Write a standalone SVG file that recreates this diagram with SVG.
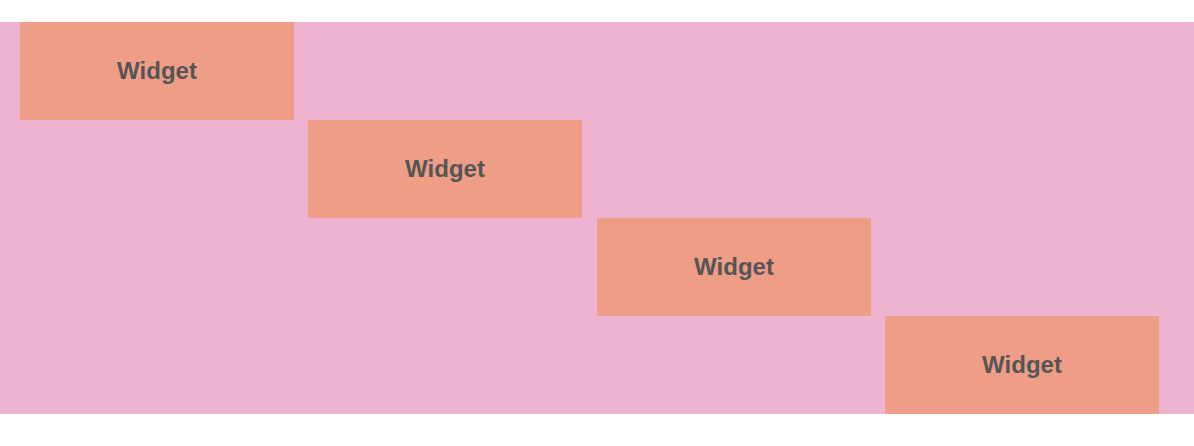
<svg xmlns="http://www.w3.org/2000/svg" width="1194" height="446" viewBox="0 0 1194 446">
<style>
.box{fill:#ee9d86}
.lbl{font-family:"Liberation Sans",Arial,Helvetica,sans-serif;font-weight:bold;font-size:24px;fill:#555555;text-anchor:middle}
</style>
<rect x="0" y="0" width="1194" height="446" fill="#ffffff"/>
<rect x="0" y="22" width="1194" height="392" fill="#efb3d2"/>
<g id="connectors"></g>
<g id="widget1"><rect class="box" x="20" y="22" width="274" height="98"/><text class="lbl" x="157" y="79">Widget</text></g>
<g id="widget2"><rect class="box" x="308" y="120" width="274" height="98"/><text class="lbl" x="445" y="177">Widget</text></g>
<g id="widget3"><rect class="box" x="597" y="218" width="274" height="98"/><text class="lbl" x="734" y="275">Widget</text></g>
<g id="widget4"><rect class="box" x="885" y="316" width="274" height="98"/><text class="lbl" x="1022" y="373">Widget</text></g>
</svg>
